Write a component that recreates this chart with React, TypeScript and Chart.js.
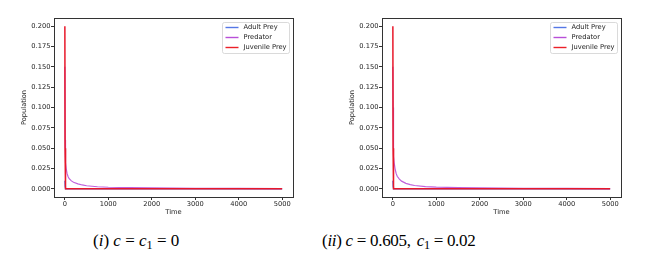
import React, { useEffect, useRef } from "react";
import { Chart, registerables } from "chart.js";

Chart.register(...registerables);

// Time axis samples
const timeValues = [0, 5, 10, 20, 30, 50, 75, 100, 150, 200, 300, 400, 500, 750, 1000, 1500, 2000, 3000, 4000, 5000];

// Panel (i): c = c1 = 0
const adultPreyI = [0.01, 0.003, 0.001, 0, 0, 0, 0, 0, 0, 0, 0, 0, 0, 0, 0, 0, 0, 0, 0, 0];
const predatorI = [0.15, 0.06, 0.045, 0.032, 0.025, 0.019, 0.015, 0.0125, 0.0098, 0.0082, 0.0062, 0.0048, 0.0038, 0.0026, 0.002, 0.0014, 0.0011, 0.0007, 0.0005, 0.0004];
const juvenilePreyI = [0.2, 0.05, 0.01, 0, 0, 0, 0, 0, 0, 0, 0, 0, 0, 0, 0, 0, 0, 0, 0, 0];

// Panel (ii): c = 0.605, c1 = 0.02
const adultPreyII = [0.01, 0.003, 0.001, 0, 0, 0, 0, 0, 0, 0, 0, 0, 0, 0, 0, 0, 0, 0, 0, 0];
const predatorII = [0.15, 0.1, 0.07, 0.04, 0.032, 0.025, 0.019, 0.0155, 0.012, 0.0095, 0.0068, 0.0052, 0.0041, 0.0028, 0.0021, 0.0014, 0.0011, 0.0007, 0.0005, 0.0004];
const juvenilePreyII = [0.2, 0.05, 0.01, 0, 0, 0, 0, 0, 0, 0, 0, 0, 0, 0, 0, 0, 0, 0, 0, 0];

const xTicks = [0, 1000, 2000, 3000, 4000, 5000];
const yTicks = [0, 0.025, 0.05, 0.075, 0.1, 0.125, 0.15, 0.175, 0.2];
const seriesNames = ["Adult Prey", "Predator", "Juvenile Prey"];

const FONT = "DejaVu Sans";
const FS = 6.7;
const BLUE = "#4a6fe3";
const PURPLE = "rgba(180,70,215,0.85)";
const RED = "#e8182a";
const LEG_COLORS = ["#5577e6", "#b84fd8", "#ec2028"];

const framePlugin = {
  id: "frame",
  afterDatasetsDraw(chart: any) {
    const { ctx, chartArea: a } = chart;
    ctx.save();
    ctx.strokeStyle = "#333";
    ctx.lineWidth = 1;
    ctx.strokeRect(Math.round(a.left) + 0.5, Math.round(a.top) + 0.5, Math.round(a.right - a.left), Math.round(a.bottom - a.top));
    ctx.restore();
  },
};

const legendPlugin = {
  id: "innerLegend",
  afterDraw(chart: any) {
    const { ctx, chartArea: a } = chart;
    const w = 67, h = 31;
    const x0 = Math.round(a.right - 4 - w) + 0.5;
    const y0 = Math.round(a.top + 4) + 0.5;
    ctx.save();
    ctx.fillStyle = "rgba(255,255,255,0.85)";
    ctx.strokeStyle = "#d0d0d0";
    ctx.lineWidth = 0.8;
    ctx.beginPath();
    const r = 2;
    ctx.moveTo(x0 + r, y0);
    ctx.lineTo(x0 + w - r, y0);
    ctx.quadraticCurveTo(x0 + w, y0, x0 + w, y0 + r);
    ctx.lineTo(x0 + w, y0 + h - r);
    ctx.quadraticCurveTo(x0 + w, y0 + h, x0 + w - r, y0 + h);
    ctx.lineTo(x0 + r, y0 + h);
    ctx.quadraticCurveTo(x0, y0 + h, x0, y0 + h - r);
    ctx.lineTo(x0, y0 + r);
    ctx.quadraticCurveTo(x0, y0, x0 + r, y0);
    ctx.closePath();
    ctx.fill();
    ctx.stroke();
    seriesNames.forEach((name, i) => {
      const y = y0 + 5 + i * 10;
      ctx.strokeStyle = LEG_COLORS[i];
      ctx.lineWidth = 1.4;
      ctx.beginPath();
      ctx.moveTo(x0 + 3, y);
      ctx.lineTo(x0 + 16, y);
      ctx.stroke();
      ctx.fillStyle = "#222";
      ctx.font = `${FS}px '${FONT}'`;
      ctx.textBaseline = "middle";
      ctx.textAlign = "left";
      ctx.fillText(name, x0 + 21, y);
    });
    ctx.restore();
  },
};

function toPoints(ys: number[]) {
  return ys.map((y, i) => ({ x: timeValues[i], y }));
}

function Panel({ left, adult, pred, juv }: { left: number; adult: number[]; pred: number[]; juv: number[] }) {
  const ref = useRef<HTMLCanvasElement>(null);
  useEffect(() => {
    const chart = new Chart(ref.current!, {
      type: "line",
      data: {
        datasets: [
          { label: seriesNames[0], data: toPoints(adult), borderColor: BLUE, borderWidth: 1.2, pointRadius: 0, tension: 0, order: 3 },
          { label: seriesNames[1], data: toPoints(pred), borderColor: PURPLE, borderWidth: 1.2, pointRadius: 0, tension: 0, order: 2 },
          { label: seriesNames[2], data: toPoints(juv), borderColor: RED, borderWidth: 1.5, pointRadius: 0, tension: 0, order: 1 },
        ],
      },
      options: {
        animation: false,
        responsive: false,
        events: [],
        layout: { padding: { left: 20, right: 32, top: 18, bottom: 4 } },
        plugins: { legend: { display: false }, tooltip: { enabled: false } },
        scales: {
          x: {
            type: "linear",
            min: -250,
            max: 5250,
            afterBuildTicks: (s: any) => { s.ticks = xTicks.map((v) => ({ value: v })); },
            afterFit: (s: any) => { s.height = 19; },
            ticks: { color: "#222", font: { family: FONT, size: FS }, padding: 0.5, maxRotation: 0, autoSkip: false, callback: (v: any) => String(v) },
            grid: { drawOnChartArea: false, tickLength: 3, color: "#333" },
            border: { display: true, color: "#333", width: 1 },
            title: { display: true, text: "Time", color: "#222", font: { family: FONT, size: FS }, padding: 0 },
          },
          y: {
            type: "linear",
            min: -0.01,
            max: 0.21,
            afterBuildTicks: (s: any) => { s.ticks = yTicks.map((v) => ({ value: v })); },
            afterFit: (s: any) => { s.width = 34; },
            ticks: { color: "#222", font: { family: FONT, size: FS }, padding: 0.5, autoSkip: false, callback: (v: any) => Number(v).toFixed(3) },
            grid: { drawOnChartArea: false, tickLength: 3, color: "#333" },
            border: { display: true, color: "#333", width: 1 },
            title: { display: true, text: "Population", color: "#222", font: { family: FONT, size: FS }, padding: 0 },
          },
        },
      },
      plugins: [framePlugin, legendPlugin],
    } as any);
    return () => chart.destroy();
  }, []);
  return <canvas ref={ref} width={325} height={220} style={{ position: "absolute", left, top: 0, width: 325, height: 220 }} />;
}

const capStyle: React.CSSProperties = {
  position: "absolute",
  top: 231,
  fontFamily: "'Liberation Serif', serif",
  fontSize: 17,
  lineHeight: "19px",
  color: "#000",
  whiteSpace: "nowrap",
};
const subStyle: React.CSSProperties = { fontSize: "0.72em", position: "relative", top: 3 };

export default function App() {
  return (
    <div style={{ position: "absolute", left: 0, top: 0, width: 649, height: 260, background: "#fff" }}>
      <Panel left={0} adult={adultPreyI} pred={predatorI} juv={juvenilePreyI} />
      <Panel left={328} adult={adultPreyII} pred={predatorII} juv={juvenilePreyII} />
      <div style={{ ...capStyle, left: 93 }}>
        (<i>i</i>) <i>c</i> = <i>c</i><span style={subStyle}>1</span> = 0
      </div>
      <div style={{ ...capStyle, left: 322, letterSpacing: -0.3 }}>
        (<i>ii</i>) <i>c</i> = 0.605, <span style={{ marginLeft: 2 }} /><i>c</i><span style={subStyle}>1</span> = 0.02
      </div>
    </div>
  );
}
